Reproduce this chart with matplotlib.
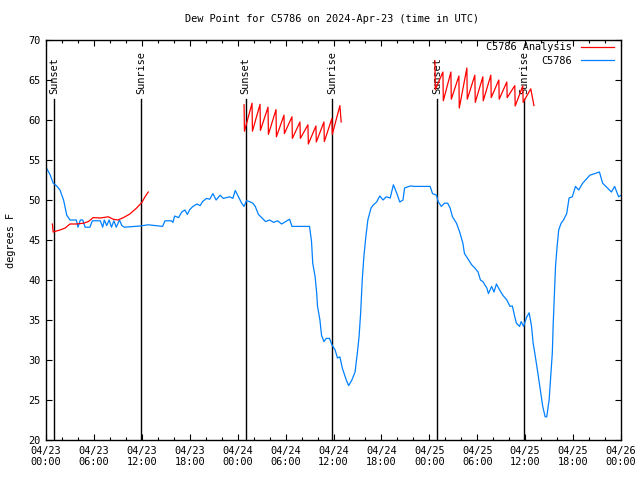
import matplotlib
matplotlib.use("Agg")
import matplotlib.pyplot as plt

# hours since 2024-04-23 00:00 UTC
blue_hours = [0.0, 0.16, 0.5, 0.9, 1.3, 1.75, 2.2, 2.6, 3.0, 3.8, 4.0, 4.3, 4.6, 4.9, 5.5, 5.8,
              6.2, 6.8, 7.1, 7.3, 7.6, 7.9, 8.2, 8.5, 8.8, 9.2, 9.5, 9.8, 11.8, 12.8, 14.6, 14.9,
              15.7, 15.9, 16.1, 16.6, 17.0, 17.4, 17.7, 18.0, 18.4, 18.9, 19.3, 19.6, 20.1, 20.5,
              20.9, 21.3, 21.8, 22.2, 23.0, 23.4, 23.7, 24.1, 24.5, 24.8, 25.1, 25.5, 25.9, 26.2,
              26.6, 27.0, 27.5, 28.0, 28.5, 29.0, 29.5, 30.0, 30.5, 30.8, 33.0, 33.25, 33.4, 33.7,
              33.9, 34.0, 34.3, 34.5, 34.8, 35.1, 35.5, 35.8, 36.2, 36.5, 36.8, 37.1, 37.4, 37.6,
              37.9, 38.3, 38.7, 39.0, 39.2, 39.4, 39.6, 39.8, 40.05, 40.3, 40.7, 41.0, 41.4, 41.8,
              42.2, 42.6, 43.1, 43.5, 43.9, 44.3, 44.7, 44.9, 45.6, 46.2, 46.8, 48.1, 48.4, 48.9,
              49.1, 49.5, 49.9, 50.3, 50.6, 50.9, 51.4, 51.8, 52.2, 52.4, 52.8, 53.3, 53.7, 54.1,
              54.4, 54.7, 55.2, 55.4, 55.8, 56.1, 56.4, 56.8, 57.2, 57.7, 58.1, 58.4, 58.7, 58.9,
              59.3, 59.5, 59.8, 60.2, 60.5, 60.8, 61.0, 61.2, 61.4, 61.6, 61.9, 62.2, 62.5, 62.7,
              63.0, 63.2, 63.4, 63.5, 63.6, 63.8, 64.0, 64.2, 64.5, 64.8, 65.2, 65.5, 65.9, 66.3,
              66.7, 67.2, 68.1, 68.7, 69.3, 69.7, 70.3, 70.8, 71.2, 71.7, 72.0]
blue_vals = [54.1, 53.8, 53.2, 52.1, 51.8, 51.25, 50.0, 48.1, 47.5, 47.5, 46.6, 47.5, 47.5, 46.6, 46.6, 47.4,
             47.4, 47.4, 46.6, 47.5, 46.8, 47.5, 46.6, 47.4, 46.6, 47.5, 46.8, 46.6, 46.75, 46.9, 46.7, 47.4,
             47.4, 47.2, 48.0, 47.8, 48.5, 48.75, 48.2, 48.8, 49.2, 49.5, 49.3, 49.8, 50.2, 50.1,
             50.8, 50.0, 50.6, 50.2, 50.4, 50.2, 51.2, 50.4, 49.6, 49.2, 49.9, 49.8, 49.6, 49.2,
             48.2, 47.8, 47.3, 47.5, 47.2, 47.4, 47.0, 47.3, 47.6, 46.7, 46.7, 44.8, 42.1, 40.4,
             38.3, 36.7, 35.0, 33.1, 32.3, 32.7, 32.7, 31.9, 31.25, 30.25, 30.4, 29.0, 28.1, 27.5,
             26.8, 27.5, 28.5, 31.0, 32.9, 35.9, 40.0, 42.9, 45.4, 47.5, 49.0, 49.4, 49.75, 50.5,
             50.0, 50.4, 50.25, 51.9, 50.9, 49.75, 50.0, 51.5, 51.75, 51.7, 51.7, 51.7, 50.8, 50.6,
             49.8, 49.2, 49.6, 49.6, 49.0, 47.9, 47.1, 46.0, 44.6, 43.3, 42.7, 41.9, 41.5, 41.0,
             40.0, 39.8, 39.0, 38.3, 39.2, 38.5, 39.5, 38.75, 38.1, 37.5, 36.7, 36.75, 35.4, 34.6,
             34.2, 34.8, 34.2, 35.4, 35.9, 34.2, 32.1, 30.9, 29.6, 28.3, 26.25, 24.2, 22.9, 22.9,
             25.0, 27.9, 30.9, 34.2, 36.7, 41.7, 44.2, 46.25, 47.1, 47.5, 48.3, 50.25, 50.4, 51.7,
             51.25, 52.1, 53.1, 53.3, 53.5, 52.1, 51.5, 51.0, 51.7, 50.4, 50.6]

red1_hours = [0.8, 0.9, 1.75, 2.4, 3.0, 3.8, 4.7, 5.3, 5.9, 6.8, 7.8, 8.4, 9.0, 9.7, 10.5, 11.35, 12.0, 12.4, 12.8]
red1_vals = [47.0, 46.0, 46.25, 46.5, 47.0, 47.0, 47.1, 47.3, 47.8, 47.75, 47.9, 47.6, 47.5, 47.8, 48.25, 49.0, 49.7, 50.4, 51.0]

red2_hours = [24.8, 24.85, 25.8, 25.85, 26.8, 26.85, 27.8, 27.85, 28.8, 28.85, 29.8, 29.85, 30.8, 30.85,
              31.8, 31.85, 32.8, 32.85, 33.8, 33.85, 34.8, 34.85, 35.8, 35.85, 36.8, 36.96]
red2_vals = [61.9, 58.6, 62.1, 58.6, 61.96, 58.7, 61.6, 58.2, 61.3, 57.9, 60.6, 58.3, 60.4, 57.7,
             59.75, 57.7, 59.4, 57.0, 59.25, 57.25, 59.75, 57.3, 60.2, 58.2, 61.8, 59.75]

red3_hours = [48.7, 48.75, 49.7, 49.75, 50.7, 50.75, 51.7, 51.75, 52.7, 52.75, 53.7, 53.75, 54.7, 54.75,
              55.7, 55.75, 56.7, 56.75, 57.7, 57.75, 58.7, 58.75, 59.7, 59.75, 60.7, 61.1]
red3_vals = [67.4, 63.8, 66.0, 62.4, 66.0, 62.6, 65.5, 61.5, 66.5, 62.6, 65.6, 62.2, 65.4, 62.4,
             65.6, 62.8, 65.0, 62.6, 64.75, 62.8, 64.3, 61.75, 64.25, 62.2, 63.9, 61.8]

sun_hours = [1.0, 11.9, 25.0, 35.8, 48.95, 59.85]
sun_labels = ["Sunset", "Sunrise", "Sunset", "Sunrise", "Sunset", "Sunrise"]

tick_hours = [0, 6, 12, 18, 24, 30, 36, 42, 48, 54, 60, 66, 72]
tick_labels = ["04/23\n00:00", "04/23\n06:00", "04/23\n12:00", "04/23\n18:00",
               "04/24\n00:00", "04/24\n06:00", "04/24\n12:00", "04/24\n18:00",
               "04/25\n00:00", "04/25\n06:00", "04/25\n12:00", "04/25\n18:00",
               "04/26\n00:00"]

RED = "#ff0000"
BLUE = "#0080ff"
FS = 7.4
plt.rcParams["font.family"] = ["DejaVu Sans Mono"]

fig = plt.figure(figsize=(6.4, 4.8), dpi=100)
ax = fig.add_axes([46 / 640, 40 / 480, 575 / 640, 400 / 480])

for h, lab in zip(sun_hours, sun_labels):
    ax.plot([h, h], [20, 62.6], color="black", lw=1.0, zorder=1)
    ax.text(h, 63.3, lab, rotation=90, ha="center", va="bottom", fontsize=FS)

ax.plot(red1_hours, red1_vals, color=RED, lw=0.9, label="C5786 Analysis", zorder=3)
ax.plot(red2_hours, red2_vals, color=RED, lw=0.9, zorder=3)
ax.plot(red3_hours, red3_vals, color=RED, lw=0.9, zorder=3)
ax.plot(blue_hours, blue_vals, color=BLUE, lw=0.9, label="C5786", zorder=2)

ax.set_xlim(0, 72)
ax.set_ylim(20, 70)
ax.set_xticks(tick_hours)
ax.set_xticklabels(tick_labels, fontsize=FS)
ax.set_xticks(range(0, 73, 2), minor=True)
ax.set_yticks(range(20, 71, 5))
ax.tick_params(axis="y", labelsize=FS)
ax.tick_params(which="major", direction="in", length=4, width=0.8, top=True, right=True, pad=4)
ax.tick_params(which="minor", direction="in", length=2, width=0.8, top=True, right=False)
ax.tick_params(axis="y", which="minor", left=False, right=False)
for sp in ax.spines.values():
    sp.set_linewidth(1.0)

ax.set_ylabel("degrees F", fontsize=FS, labelpad=9)
fig.text(332 / 640, 1 - 19 / 480, "Dew Point for C5786 on 2024-Apr-23 (time in UTC)",
         ha="center", va="center", fontsize=FS)

leg = ax.legend(loc="upper right", bbox_to_anchor=(0.995, 1.005), frameon=False,
                markerfirst=False, fontsize=FS, handlelength=3.2, handletextpad=0.9,
                labelspacing=0.35, borderaxespad=0.0)

fig.savefig("out.png", dpi=100)
